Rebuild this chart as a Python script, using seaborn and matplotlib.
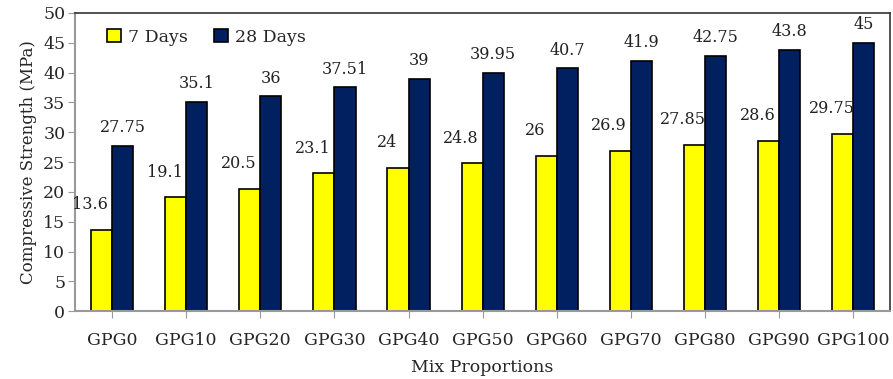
import pandas as pd
import matplotlib
matplotlib.use('Agg')
import matplotlib.pyplot as plt
import seaborn as sns

# dati
mixes = ['GPG0', 'GPG10', 'GPG20', 'GPG30', 'GPG40', 'GPG50',
         'GPG60', 'GPG70', 'GPG80', 'GPG90', 'GPG100']
days7 = [13.6, 19.1, 20.5, 23.1, 24, 24.8, 26, 26.9, 27.85, 28.6, 29.75]
days28 = [27.75, 35.1, 36, 37.51, 39, 39.95, 40.7, 41.9, 42.75, 43.8, 45]
labels7 = ['13.6', '19.1', '20.5', '23.1', '24', '24.8', '26', '26.9', '27.85', '28.6', '29.75']
labels28 = ['27.75', '35.1', '36', '37.51', '39', '39.95', '40.7', '41.9', '42.75', '43.8', '45']

df = pd.DataFrame({
    'mix': mixes * 2,
    'val': days7 + days28,
    'age': ['7 Days'] * len(mixes) + ['28 Days'] * len(mixes),
})

sns.set_style('white')
plt.rcParams['font.family'] = ['DejaVu Serif']

fig = plt.figure(figsize=(8.93, 3.79), dpi=100)
ax = fig.add_axes([0.084, 0.179, 0.913, 0.787])

sns.barplot(data=df, x='mix', y='val', hue='age', order=mixes,
            hue_order=['7 Days', '28 Days'],
            palette={'7 Days': '#FFFF00', '28 Days': '#002060'},
            saturation=1, edgecolor='black', linewidth=1.2, width=0.57,
            ax=ax, legend=True)

# etichette sopra le barre
for bar, txt in zip(ax.containers[0], labels7):
    ax.annotate(txt, (bar.get_x() + bar.get_width() / 2, bar.get_height()),
                xytext=(-8, 12), textcoords='offset points',
                ha='center', va='bottom', fontsize=11.5, color='#222222')
for bar, txt in zip(ax.containers[1], labels28):
    ax.annotate(txt, (bar.get_x() + bar.get_width() / 2, bar.get_height()),
                xytext=(0, 7), textcoords='offset points',
                ha='center', va='bottom', fontsize=11.5, color='#222222')

ax.set_xlim(-0.5, len(mixes) - 0.5)
ax.set_ylim(0, 50)
ax.set_yticks(range(0, 51, 5))
ax.set_xlabel('Mix Proportions', fontsize=12.5, labelpad=7)
ax.set_ylabel('Compressive Strength (MPa)', fontsize=12)
ax.tick_params(axis='both', labelsize=12.5)
ax.tick_params(axis='x', bottom=True, length=5, color='#999999', pad=10)
ax.tick_params(axis='y', left=True, length=5, color='#999999', pad=2)

for s in ['left', 'bottom']:
    ax.spines[s].set_color('#999999')
    ax.spines[s].set_linewidth(1.5)
for s in ['top', 'right']:
    ax.spines[s].set_color('#333333')
    ax.spines[s].set_linewidth(1.2)

leg = ax.legend(loc='upper left', bbox_to_anchor=(0.02, 1.0), ncol=2,
                frameon=False, fontsize=12.5, handlelength=0.8,
                handleheight=0.8, columnspacing=1.5, handletextpad=0.4)
for h in leg.legend_handles:
    h.set_edgecolor('black')

fig.savefig('out.png', dpi=100)
